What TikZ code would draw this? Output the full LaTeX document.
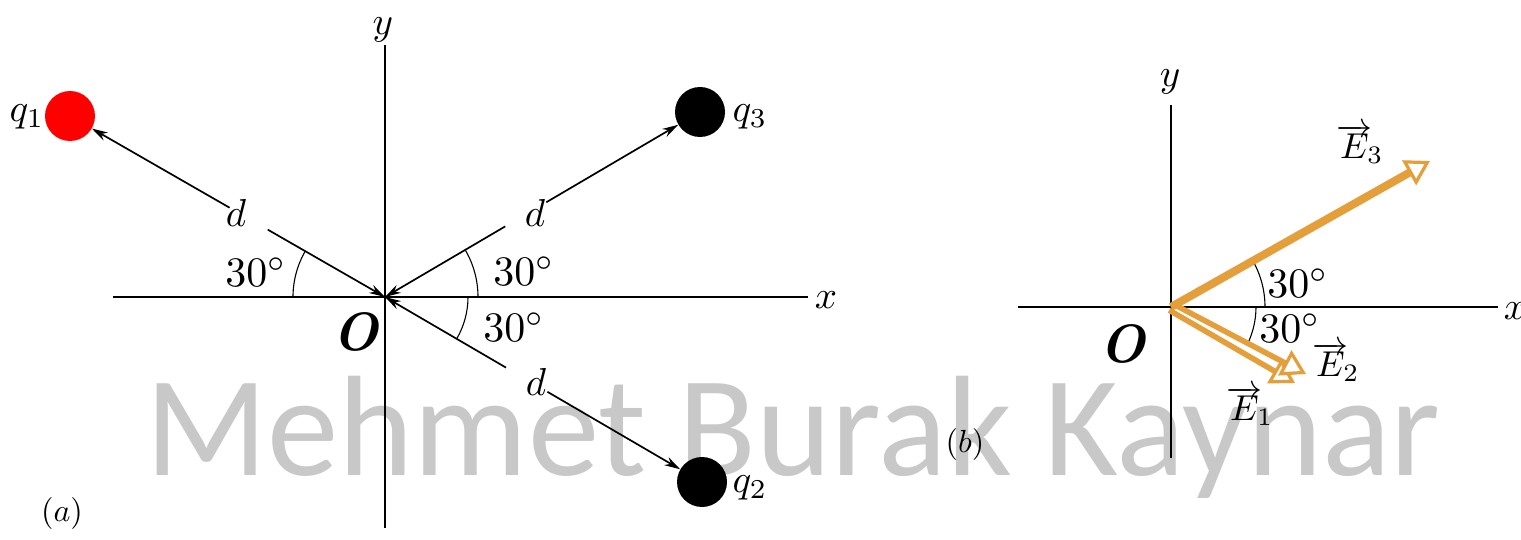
\documentclass[tikz,border=0pt]{standalone}
\usepackage{fontspec}
\newfontfamily\wmfont{Carlito}
\usetikzlibrary{arrows.meta,calc}
\definecolor{efield}{RGB}{228,158,58}
\definecolor{wmgray}{RGB}{200,200,200}
\definecolor{qred}{RGB}{255,0,0}
\begin{document}
\begin{tikzpicture}[x=1pt,y=-1pt,
  axis/.style={line width=2pt},
  dimline/.style={line width=1.7pt, -{Stealth[length=16pt,width=9pt]}},
  charge/.style={circle, minimum size=50pt, inner sep=0pt},
  anglearc/.style={line width=1.1pt},
  fvec/.style={line width=8pt, draw=efield, -{Triangle[length=24pt,width=28pt,line width=3.2pt,fill=white]}},
  fvecthin/.style={line width=5.5pt, draw=efield, -{Triangle[length=24pt,width=28pt,line width=3.2pt,fill=white]}},
  lbl/.style={inner sep=0pt, scale=3.9},
  ang/.style={inner sep=0pt, scale=4.2},
  dlbl/.style={inner sep=0pt, scale=3.9},
  olbl/.style={inner sep=0pt, scale=5.4, font=\bfseries\itshape},
  plbl/.style={inner sep=0pt, scale=3.2},
  elbl/.style={inner sep=0pt, scale=3.6},
]
\useasboundingbox (0,0) rectangle (1521,540);
\fill[white] (0,0) rectangle (1521,540);

% watermark
\node[anchor=base west, inner sep=0pt, text=wmgray, font=\wmfont\fontsize{143}{150}\selectfont] (wm) at (145,475) {Mehmet Burak Kaynar};

% ---------- panel (a) ----------
\coordinate (O) at (385,297);
\coordinate (ay1) at (385,45);
\coordinate (ay2) at (385,528);
\coordinate (ax1) at (113,297);
\coordinate (ax2) at (808,297);
\draw[axis] (ay1) -- (ay2);
\draw[axis] (ax1) -- (ax2);
\node[lbl] (ylab) at (383,30) {$y$};
\node[lbl] (xlab) at (826,300) {$x$};

\node[charge, fill=qred] (q1) at (70,116) {};
\node[charge, fill=black] (q3) at (700,112) {};
\node[charge, fill=black] (q2) at (702,482) {};
\node[lbl] (q1lab) at (27,117) {$q_1$};
\node[lbl] (q3lab) at (750,117) {$q_3$};
\node[lbl] (q2lab) at (750,488) {$q_2$};

% dimension lines with gap for d
\path (O) -- (q1) coordinate[pos=0.40] (g1a) coordinate[pos=0.53] (g1b);
\path (O) -- (q3) coordinate[pos=0.41] (g3a) coordinate[pos=0.55] (g3b);
\path (O) -- (q2) coordinate[pos=0.41] (g2a) coordinate[pos=0.55] (g2b);
\draw[dimline] (g1a) -- (O);
\draw[dimline] (g1b) -- (q1);
\draw[dimline] (g3a) -- (O);
\draw[dimline] (g3b) -- (q3);
\draw[dimline] (g2a) -- (O);
\draw[dimline] (g2b) -- (q2);
\node[dlbl] (d1) at (236,213) {$d$};
\node[dlbl] (d3) at (535,213) {$d$};
\node[dlbl] (d2) at (536,382) {$d$};

% angle arcs
\draw[anglearc] (O) ++(180:92) arc[start angle=180, end angle=210, radius=92];
\draw[anglearc] (O) ++(0:93) arc[start angle=0, end angle=-30, radius=93];
\draw[anglearc] (O) ++(0:83) arc[start angle=0, end angle=30, radius=83];
\node[ang] (a1) at (256,272) {$30^\circ$};
\node[ang] (a2) at (524,271) {$30^\circ$};
\node[ang] (a3) at (514,327) {$30^\circ$};

\node[olbl] (Olab) at (356,332) {O};
\node[plbl] (pa) at (62,513) {$(a)$};

% ---------- panel (b) ----------
\coordinate (Ob) at (1171,307);
\coordinate (by1) at (1171,105);
\coordinate (by2) at (1171,458);
\coordinate (bx1) at (1018,307);
\coordinate (bx2) at (1498,307);
\draw[axis] (by1) -- (by2);
\draw[axis] (bx1) -- (bx2);
\node[lbl] (bylab) at (1170,82) {$y$};
\node[lbl] (bxlab) at (1515,311) {$x$};

\draw[anglearc] (Ob) ++(0:94) arc[start angle=0, end angle=-29.4, radius=94];
\draw[anglearc] (Ob) ++(0:85) arc[start angle=0, end angle=27, radius=85];

\coordinate (E3tip) at (1430,161);
\coordinate (E2s) at (1172.8,303.8);
\coordinate (E2tip) at (1306,374);
\coordinate (E1s) at (1169.2,310.2);
\coordinate (E1tip) at (1295,383);
\draw[fvecthin] (E1s) -- (E1tip);
\draw[fvecthin] (E2s) -- (E2tip);
\draw[fvec] (Ob) -- (E3tip);

\node[ang] (b1) at (1298,283) {$30^\circ$};
\node[ang] (b2) at (1290,328) {$30^\circ$};
\node[elbl] (E3lab) at (1360,144) {$\overrightarrow{E}_{\!3}$};
\node[elbl] (E2lab) at (1336,362) {$\overrightarrow{E}_{\!2}$};
\node[elbl] (E1lab) at (1250,406) {$\overrightarrow{E}_{\!1}$};

\node[olbl] (Oblab) at (1123,344) {O};
\node[plbl] (pb) at (965,444) {$(b)$};
\end{tikzpicture}
\end{document}
